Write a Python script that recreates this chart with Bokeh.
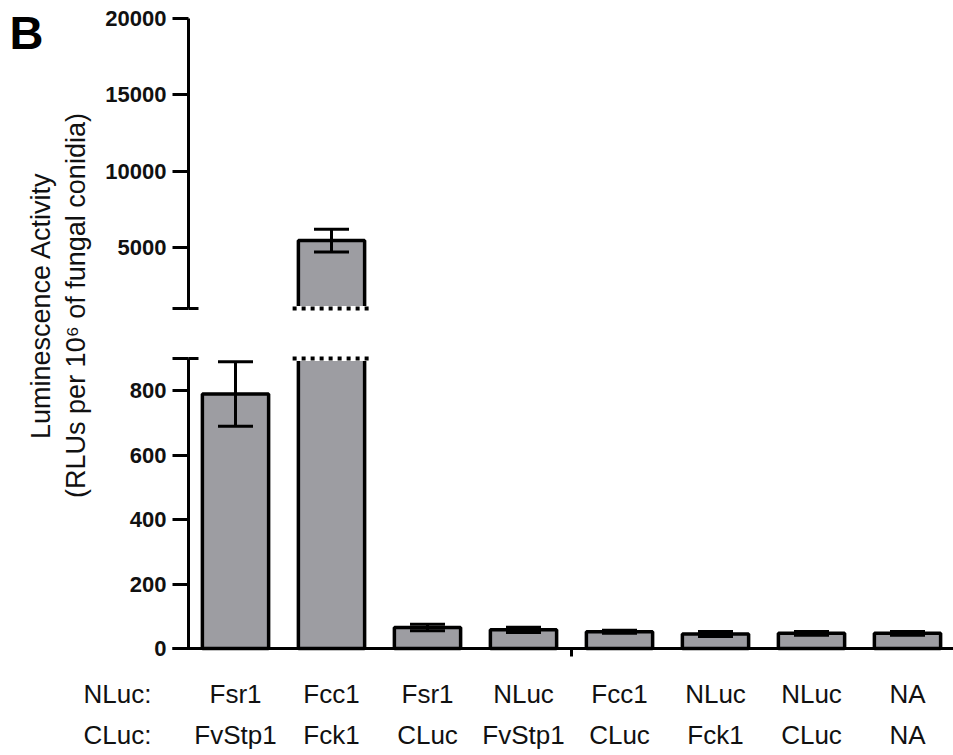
import numpy as np
from bokeh.plotting import figure
from bokeh.models import (Range1d, LinearAxis, FixedTicker, Whisker, TeeHead,
                          ColumnDataSource, Label)
from bokeh.embed import file_html
from bokeh.resources import INLINE

# ---------------- data ----------------
nluc_labels = ["Fsr1", "Fcc1", "Fsr1", "NLuc", "Fcc1", "NLuc", "NLuc", "NA"]
cluc_labels = ["FvStp1", "Fck1", "CLuc", "FvStp1", "CLuc", "Fck1", "CLuc", "NA"]
row_headers = ["NLuc:", "CLuc:"]
means = [790, 5450, 65, 58, 52, 45, 47, 47]
errors = [100, 750, 10, 8, 5, 8, 6, 6]
low_ticks = [0, 200, 400, 600, 800]
high_ticks = [5000, 10000, 15000, 20000]
LOW_MAX = 900      # top of lower segment
HIGH_MIN = 1000    # bottom of upper segment
HIGH_MAX = 20000

# ---------------- layout constants (pixels) ----------------
W, H = 953, 755
FH = H                      # frame covers the whole canvas
PPX = 96.0                  # pixels per category
C0 = 235.0                  # pixel x of first bar centre
AXIS_X = 188.0              # pixel x of y axes
XLINE_X = 172.0             # pixel x where x-axis line starts
LOW_Y0, LOW_Y1 = 648.0, 358.0    # pixel y of 0 and LOW_MAX
HIGH_Y0, HIGH_Y1 = 308.0, 18.0   # pixel y of HIGH_MIN and HIGH_MAX
ROW1_Y, ROW2_Y = 678.0, 719.0    # pixel y of the top of the label rows
FONT = "Liberation Sans"
BAR_FILL = "#9d9da2"
BAR_W = 0.69
TXT = "#111111"


def dx(px):
    return (px - C0) / PPX


low_ppu = (LOW_Y0 - LOW_Y1) / LOW_MAX
high_ppu = (HIGH_Y0 - HIGH_Y1) / (HIGH_MAX - HIGH_MIN)


def dy(py):
    return (LOW_Y0 - py) / low_ppu


xs, xe = dx(0), dx(W)
low_range = Range1d(dy(FH), dy(0))
high_range = Range1d(HIGH_MIN - (FH - HIGH_Y0) / high_ppu, HIGH_MAX + HIGH_Y1 / high_ppu)

x = np.arange(len(means), dtype=float)
m = np.array(means, dtype=float)
e = np.array(errors, dtype=float)

p = figure(width=W, height=H, x_range=Range1d(xs, xe), y_range=low_range,
           output_backend="svg", toolbar_location=None,
           min_border_left=0, min_border_right=0, min_border_top=0, min_border_bottom=0,
           x_axis_location=None, y_axis_location=None)
p.extra_y_ranges = {"high": high_range}
p.outline_line_color = None
p.xgrid.visible = False
p.ygrid.visible = False


def style_y(ax):
    ax.axis_line_width = 3
    ax.axis_line_color = "black"
    ax.major_tick_line_width = 3
    ax.major_tick_line_color = "black"
    ax.major_tick_out = 16
    ax.major_tick_in = 0
    ax.minor_tick_line_color = None
    ax.major_label_text_font = FONT
    ax.major_label_text_font_style = "bold"
    ax.major_label_text_font_size = "22px"
    ax.major_label_text_color = TXT
    ax.major_label_standoff = 6


low_axis = LinearAxis(ticker=FixedTicker(ticks=low_ticks + [LOW_MAX]), bounds=(0, LOW_MAX),
                      fixed_location=dx(AXIS_X), major_label_overrides={LOW_MAX: ""})
high_axis = LinearAxis(y_range_name="high", ticker=FixedTicker(ticks=[HIGH_MIN] + high_ticks),
                       bounds=(HIGH_MIN, HIGH_MAX), fixed_location=dx(AXIS_X),
                       major_label_overrides={HIGH_MIN: ""})
style_y(low_axis)
style_y(high_axis)
p.add_layout(low_axis, "left")
p.add_layout(high_axis, "left")

# x axis line with its single centre tick
xa = LinearAxis(ticker=FixedTicker(ticks=[], minor_ticks=[(len(x) - 1) / 2]),
                bounds=(dx(XLINE_X), xe), fixed_location=0)
xa.axis_line_width = 3
xa.axis_line_color = "black"
xa.major_tick_line_color = None
xa.major_tick_out = 0
xa.major_tick_in = 0
xa.minor_tick_line_color = "black"
xa.minor_tick_line_width = 3
xa.minor_tick_out = 8
xa.minor_tick_in = 0
p.add_layout(xa, "below")

# two rows of labels (row header at the left of each row)
hdr_x = dx(117)
for labels, header, top_px in ((nluc_labels, row_headers[0], ROW1_Y),
                               (cluc_labels, row_headers[1], ROW2_Y)):
    ticks = [hdr_x] + list(x)
    ov = {hdr_x: header}
    ov.update({float(i): s for i, s in enumerate(labels)})
    ax = LinearAxis(ticker=FixedTicker(ticks=ticks), major_label_overrides=ov,
                    fixed_location=0)
    ax.axis_line_color = None
    ax.major_tick_line_color = None
    ax.minor_tick_line_color = None
    ax.major_tick_out = 0
    ax.major_tick_in = 0
    ax.major_label_standoff = int(top_px - LOW_Y0)
    ax.major_label_text_font = FONT
    ax.major_label_text_font_size = "26px"
    ax.major_label_text_color = TXT
    p.add_layout(ax, "below")

# ---------------- bars ----------------
low_src = ColumnDataSource(dict(x=x, top=np.minimum(m, LOW_MAX)))
p.vbar(x="x", top="top", bottom=0, width=BAR_W, source=low_src,
       fill_color=BAR_FILL, line_color="black", line_width=3.5)

hi = m > HIGH_MIN
hi_src = ColumnDataSource(dict(x=x[hi], top=m[hi]))
p.vbar(x="x", top="top", bottom=HIGH_MIN, width=BAR_W, source=hi_src,
       fill_color=BAR_FILL, line_color="black", line_width=3.5, y_range_name="high")

# break markers (dotted edges) on broken bars
brk = m > LOW_MAX
bx0 = x[brk] - BAR_W / 2 - 0.06
bx1 = x[brk] + BAR_W / 2 + 0.06
for yv, rng in ((LOW_MAX, "default"), (HIGH_MIN, "high")):
    yy = np.full(brk.sum(), yv, dtype=float)
    p.segment(x0=bx0, y0=yy, x1=bx1, y1=yy, line_color="white", line_width=5, y_range_name=rng)
    p.segment(x0=bx0, y0=yy, x1=bx1, y1=yy, line_color="black", line_width=4,
              line_dash="4 5", y_range_name=rng)

# axis end caps (right half; left half is the tick)
cap0, cap1 = dx(AXIS_X), dx(AXIS_X + 10)
p.segment(x0=[cap0], y0=[LOW_MAX], x1=[cap1], y1=[LOW_MAX], line_color="black", line_width=3)
p.segment(x0=[cap0], y0=[HIGH_MIN], x1=[cap1], y1=[HIGH_MIN], line_color="black",
          line_width=3, y_range_name="high")

# ---------------- error bars ----------------
lo = m <= LOW_MAX
wl_src = ColumnDataSource(dict(base=x[lo], lower=(m - e)[lo], upper=(m + e)[lo]))
wh_src = ColumnDataSource(dict(base=x[hi], lower=(m - e)[hi], upper=(m + e)[hi]))
for src, rng in ((wl_src, "default"), (wh_src, "high")):
    w = Whisker(source=src, base="base", lower="lower", upper="upper", dimension="height",
                line_color="black", line_width=3, y_range_name=rng, level="overlay",
                upper_head=TeeHead(size=35, line_width=3, line_color="black"),
                lower_head=TeeHead(size=35, line_width=3, line_color="black"))
    p.add_layout(w)

# ---------------- texts ----------------
p.add_layout(Label(x=dx(40), y=dy(305), text="Luminescence Activity", angle=np.pi / 2,
                   text_align="center", text_baseline="middle", text_font=FONT,
                   text_font_size="27px", text_color=TXT))
p.add_layout(Label(x=dx(75), y=dy(305), text="(RLUs per 10\u2076 of fungal conidia)",
                   angle=np.pi / 2, text_align="center", text_baseline="middle",
                   text_font=FONT, text_font_size="27px", text_color=TXT))
p.add_layout(Label(x=dx(9), y=dy(5), text="B", text_align="left", text_baseline="top",
                   text_font=FONT, text_font_size="47px", text_font_style="bold",
                   text_color="black"))

open("out.html", "w").write(file_html(p, INLINE))
